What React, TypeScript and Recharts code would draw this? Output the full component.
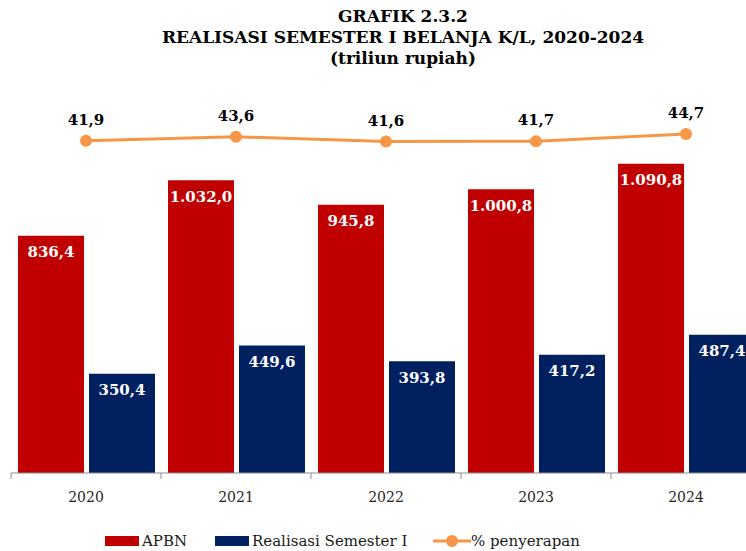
import { Bar, ComposedChart, LabelList, Line, XAxis, YAxis } from 'recharts';

const years = ['2020', '2021', '2022', '2023', '2024'];
const apbn = [836.4, 1032.0, 945.8, 1000.8, 1090.8];
const realisasi = [350.4, 449.6, 393.8, 417.2, 487.4];
const penyerapan = [41.9, 43.6, 41.6, 41.7, 44.7];

const RED = '#C00000';
const NAVY = '#002060';
const ORANGE = '#F79646';
const SERIF = '"DejaVu Serif", Georgia, serif';

const data = years.map((year, i) => ({
  year,
  apbn: apbn[i],
  realisasi: realisasi[i],
  pct: penyerapan[i],
}));

// 1032.0 -> "1.032,0"
function fmtId(value: number) {
  const [intPart, dec] = Number(value).toFixed(1).split('.');
  return intPart.replace(/\B(?=(\d{3})+(?!\d))/g, '.') + ',' + dec;
}

function YearTick({ x, y, payload }: any) {
  const half = payload?.offset ?? 0;
  return (
    <g>
      <line x1={x - half} y1={y} x2={x - half} y2={y + 6} stroke="#8c8c8c" strokeWidth={1} />
      <text x={x} y={y + 29} textAnchor="middle" fontFamily={SERIF} fontSize={14} fill="#262626">
        {payload.value}
      </text>
    </g>
  );
}

function LegendItem({ color, label, left, line }: { color: string; label: string; left: number; line?: boolean }) {
  return (
    <div style={{ position: 'absolute', left, top: 0, display: 'flex', alignItems: 'center', whiteSpace: 'nowrap' }}>
      {line ? (
        <svg width={38} height={14} style={{ marginRight: 0 }}>
          <line x1={0} y1={7} x2={38} y2={7} stroke={color} strokeWidth={3} />
          <circle cx={19} cy={7} r={6} fill={color} />
        </svg>
      ) : (
        <span style={{ display: 'inline-block', width: 34, height: 10, background: color, marginRight: 3 }} />
      )}
      <span>{label}</span>
    </div>
  );
}

export default function App() {
  return (
    <div
      style={{
        position: 'fixed',
        left: 0,
        top: 0,
        width: 746,
        height: 551,
        overflow: 'hidden',
        background: '#fff',
      }}
    >
      <div
        style={{
          position: 'absolute',
          top: 6,
          left: 0,
          width: 806,
          textAlign: 'center',
          fontFamily: SERIF,
          fontWeight: 'bold',
          fontSize: 17,
          lineHeight: '21px',
          color: '#000',
        }}
      >
        <div>GRAFIK 2.3.2</div>
        <div>REALISASI SEMESTER I BELANJA K/L, 2020-2024</div>
        <div>(triliun rupiah)</div>
      </div>

      <div style={{ position: 'absolute', left: 0, top: 0 }}>
        <ComposedChart
          width={800}
          height={551}
          data={data}
          margin={{ top: 76, right: 39, left: 11, bottom: 51 }}
          barCategoryGap={7}
          barGap={5}
        >
          <XAxis
            dataKey="year"
            height={27}
            tickSize={0}
            tickMargin={0}
            tickLine={false}
            axisLine={{ stroke: '#8c8c8c' }}
            tick={<YearTick />}
            interval={0}
          />
          <YAxis yAxisId="left" hide domain={[0, 1400]} />
          <YAxis yAxisId="right" orientation="right" hide domain={[-97, 69]} />
          <Bar yAxisId="left" dataKey="apbn" name="APBN" fill={RED} isAnimationActive={false}>
            <LabelList
              dataKey="apbn"
              position="insideTop"
              offset={11}
              formatter={(v: any) => fmtId(v)}
              fill="#fff"
              fontFamily={SERIF}
              fontWeight="bold"
              fontSize={15}
            />
          </Bar>
          <Bar yAxisId="left" dataKey="realisasi" name="Realisasi Semester I" fill={NAVY} isAnimationActive={false}>
            <LabelList
              dataKey="realisasi"
              position="insideTop"
              offset={11}
              formatter={(v: any) => fmtId(v)}
              fill="#fff"
              fontFamily={SERIF}
              fontWeight="bold"
              fontSize={15}
            />
          </Bar>
          <Line
            yAxisId="right"
            type="linear"
            dataKey="pct"
            name="% penyerapan"
            stroke={ORANGE}
            strokeWidth={3}
            dot={{ r: 6, fill: ORANGE, stroke: ORANGE, strokeWidth: 0 }}
            isAnimationActive={false}
          >
            <LabelList
              dataKey="pct"
              position="top"
              offset={16}
              formatter={(v: any) => fmtId(v)}
              fill="#000"
              fontFamily={SERIF}
              fontWeight="bold"
              fontSize={15}
            />
          </Line>
        </ComposedChart>
      </div>

      <div
        style={{
          position: 'absolute',
          top: 531,
          left: 0,
          width: 746,
          height: 20,
          fontFamily: SERIF,
          fontSize: 15,
          lineHeight: '20px',
          color: '#1a1a1a',
        }}
      >
        <LegendItem color={RED} label="APBN" left={105} />
        <LegendItem color={NAVY} label="Realisasi Semester I" left={215} />
        <LegendItem color={ORANGE} label="% penyerapan" left={433} line />
      </div>
    </div>
  );
}
